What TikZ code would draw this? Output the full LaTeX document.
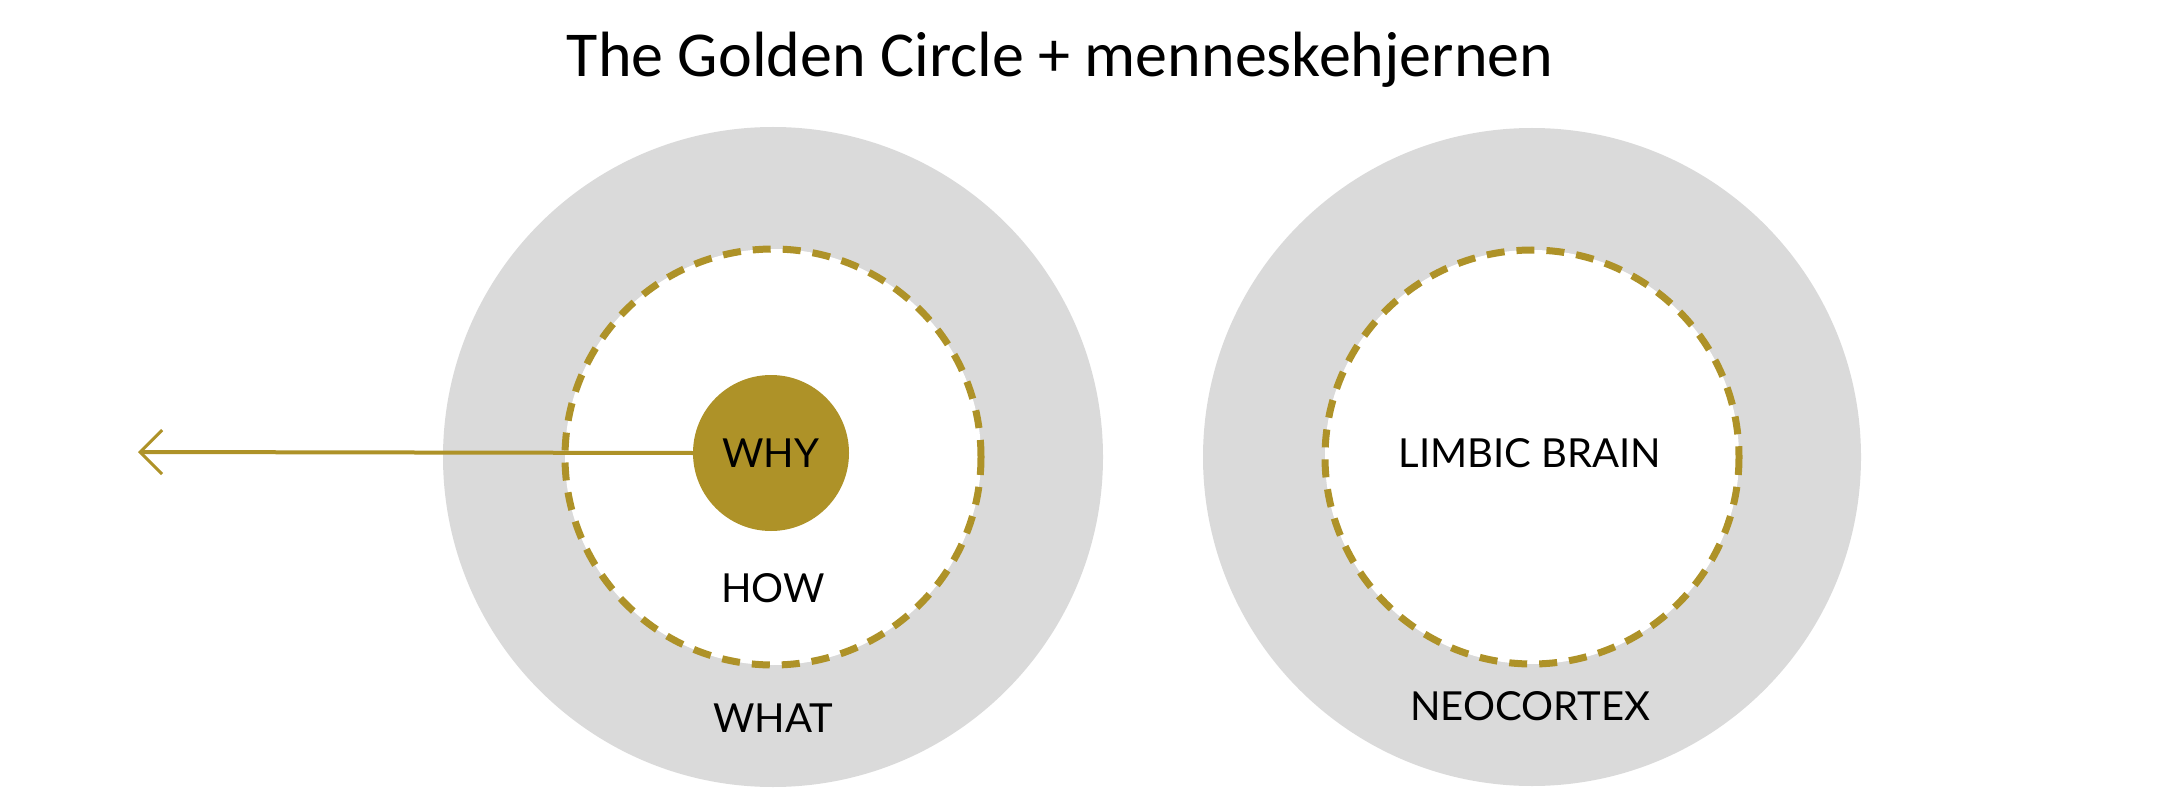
\documentclass[tikz,border=0pt]{standalone}
\usepackage{fontspec}
\setmainfont{Carlito}
\newfontfamily\lab{Lato}
\usetikzlibrary{arrows.meta}
\definecolor{gold}{HTML}{AE9228}
\definecolor{lgray}{HTML}{DADADA}
\tikzset{lbl/.style={font=\lab\fontsize{40}{44}\selectfont,text=black},
 dash ring/.style={draw=gold,line width=7pt,dash pattern=on 18pt off 12pt,fill=white}}
\begin{document}
\begin{tikzpicture}[x=1pt,y=-1pt]
\useasboundingbox (0,0) rectangle (2160,802);
\node[font=\fontsize{64}{70}\selectfont] (title) at (1060,60) {The Golden Circle + menneskehjernen};
% left
\fill[lgray] (773,457) circle (330);
\draw[dash ring] (773,457) circle (208);
\node[circle,fill=gold,minimum size=156pt,inner sep=0] (why) at (771,453) {};
\coordinate (tip) at (138,452);
\draw[gold,line width=4pt,-{Straight Barb[length=22pt,width=44pt,line width=3pt]}] (why.west) -- (tip);
\node[lbl] at (why) {WHY};
\node[lbl] (how) at (773,588) {HOW};
\node[lbl] (what) at (773,718) {WHAT};
% right
\fill[lgray] (1532,457) circle (329);
\draw[dash ring] (1532,457) circle (207);
\node[lbl] (limbic) at (1530,453) {LIMBIC BRAIN};
\node[lbl] (neo) at (1530,706) {NEOCORTEX};
\end{tikzpicture}
\end{document}
